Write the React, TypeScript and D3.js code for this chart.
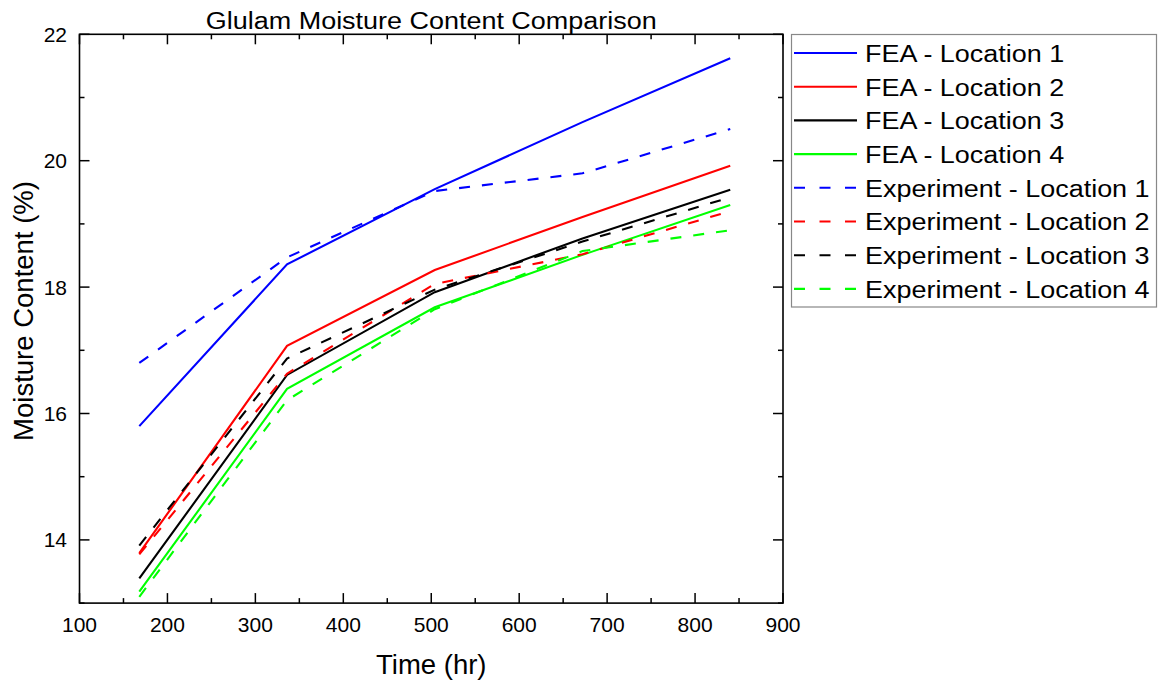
import React from "react";
import * as d3 from "d3";

const times = [168, 336, 504, 672, 840];
const feaLoc1 = [15.8, 18.36, 19.55, 20.61, 21.62];
const feaLoc2 = [13.79, 17.07, 18.27, 19.11, 19.92];
const feaLoc3 = [13.39, 16.61, 17.92, 18.77, 19.54];
const feaLoc4 = [13.18, 16.39, 17.68, 18.51, 19.3];
const expLoc1 = [16.8, 18.47, 19.52, 19.8, 20.5];
const expLoc2 = [13.77, 16.63, 18.05, 18.52, 19.2];
const expLoc3 = [13.91, 16.87, 17.96, 18.72, 19.42];
const expLoc4 = [13.1, 16.21, 17.65, 18.57, 18.9];

const xTicks = [100, 200, 300, 400, 500, 600, 700, 800, 900];
const yTicks = [14, 16, 18, 20, 22];

const series = [
  { name: "FEA - Location 1", values: feaLoc1, color: "#0000ff", dashed: false },
  { name: "FEA - Location 2", values: feaLoc2, color: "#ff0000", dashed: false },
  { name: "FEA - Location 3", values: feaLoc3, color: "#000000", dashed: false },
  { name: "FEA - Location 4", values: feaLoc4, color: "#00ff00", dashed: false },
  { name: "Experiment - Location 1", values: expLoc1, color: "#0000ff", dashed: true },
  { name: "Experiment - Location 2", values: expLoc2, color: "#ff0000", dashed: true },
  { name: "Experiment - Location 3", values: expLoc3, color: "#000000", dashed: true },
  { name: "Experiment - Location 4", values: expLoc4, color: "#00ff00", dashed: true },
];

const FONT = "Arial, 'Liberation Sans', sans-serif";

export default function App() {
  const W = 1158, H = 682;
  const left = 79.5, right = 783, top = 34.3, bottom = 603.1;
  const x = d3.scaleLinear().domain([100, 900]).range([left, right]);
  const y = d3.scaleLinear().domain([13, 22]).range([bottom, top]);
  const line = d3.line<number>().x((_, i) => x(times[i])).y((d) => y(d));

  const xMinor = d3.range(150, 900, 100);
  const yMinor = d3.range(13, 22, 1).filter((v) => v % 2 === 1);
  const dash = "11 12";

  const legX = 791.5, legY = 34.5, legW = 365, legH = 272.5;
  const rowY0 = 53, rowStep = 33.7;

  return (
    <svg width={W} height={H} style={{ position: "absolute", left: 0, top: 0, background: "#fff" }} fontFamily={FONT}>
      <rect x={0} y={0} width={W} height={H} fill="#fff" />
      <text transform={`translate(${(left + right) / 2}, 29) scale(1.1, 1)`} textAnchor="middle" fontSize={24.5}>Glulam Moisture Content Comparison</text>

      {/* series */}
      {series.map((s) => (
        <path key={s.name} d={line(s.values) || ""} fill="none" stroke={s.color} strokeWidth={2.1}
          strokeDasharray={s.dashed ? dash : undefined} />
      ))}

      {/* frame */}
      <rect x={left} y={top} width={right - left} height={bottom - top} fill="none" stroke="#000" strokeWidth={1.6} />

      {/* x ticks */}
      {xTicks.map((t) => (
        <g key={"x" + t}>
          <line x1={x(t)} x2={x(t)} y1={bottom} y2={bottom - 10} stroke="#000" strokeWidth={1.5} />
          <line x1={x(t)} x2={x(t)} y1={top} y2={top + 10} stroke="#000" strokeWidth={1.5} />
          <text x={x(t)} y={632} textAnchor="middle" fontSize={21}>{t}</text>
        </g>
      ))}
      {xMinor.map((t) => (
        <g key={"xm" + t}>
          <line x1={x(t)} x2={x(t)} y1={bottom} y2={bottom - 5} stroke="#000" strokeWidth={1.5} />
          <line x1={x(t)} x2={x(t)} y1={top} y2={top + 5} stroke="#000" strokeWidth={1.5} />
        </g>
      ))}
      {/* y ticks */}
      {yTicks.map((t) => (
        <g key={"y" + t}>
          <line x1={left} x2={left + 10} y1={y(t)} y2={y(t)} stroke="#000" strokeWidth={1.5} />
          <line x1={right} x2={right - 10} y1={y(t)} y2={y(t)} stroke="#000" strokeWidth={1.5} />
          <text x={67} y={y(t) + 7.5} textAnchor="end" fontSize={21}>{t}</text>
        </g>
      ))}
      {yMinor.map((t) => (
        <g key={"ym" + t}>
          <line x1={left} x2={left + 5} y1={y(t)} y2={y(t)} stroke="#000" strokeWidth={1.5} />
          <line x1={right} x2={right - 5} y1={y(t)} y2={y(t)} stroke="#000" strokeWidth={1.5} />
        </g>
      ))}

      <text x={(left + right) / 2} y={674} textAnchor="middle" fontSize={27.5}>Time (hr)</text>
      <text transform={`translate(33, 311) rotate(-90)`} textAnchor="middle" fontSize={27.5}>Moisture Content (%)</text>

      {/* legend */}
      <rect x={legX} y={legY} width={legW} height={legH} fill="#fff" stroke="#888" strokeWidth={1.2} />
      {series.map((s, i) => {
        const ry = rowY0 + i * rowStep;
        return (
          <g key={"leg" + i}>
            <line x1={794} x2={857} y1={ry} y2={ry} stroke={s.color} strokeWidth={2.1}
              strokeDasharray={s.dashed ? "11 14.5" : undefined} />
            <text transform={`translate(865, ${ry + 8.8}) scale(1.1, 1)`} fontSize={24.5}>{s.name}</text>
          </g>
        );
      })}
    </svg>
  );
}
